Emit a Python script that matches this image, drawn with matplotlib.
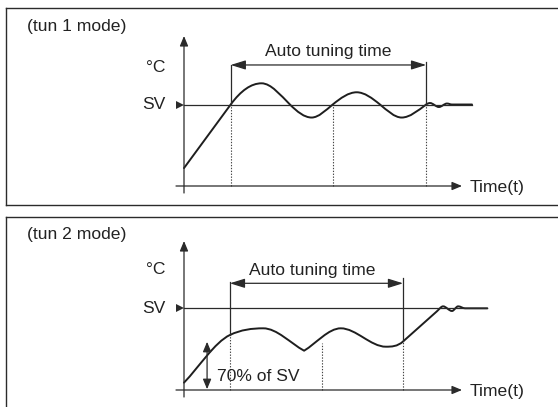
import numpy as np
import matplotlib.pyplot as plt
from matplotlib.path import Path
from matplotlib.patches import PathPatch

# ================================================
# Auto tuning modes (tun 1 / tun 2) - schematic
# time in arbitrary units, temperature in % of SV
# ================================================

plt.rcParams['font.family'] = ['Liberation Sans', 'DejaVu Sans']

# --- tun 1 mode: response curve key points ---
t1_time = [0, 16.8, 27.9, 38.1, 45.9, 53.5, 62.1, 70.5, 78.3, 87.1, 88.5, 91.7, 94.6, 96.4, 103.6]
t1_temp = [22, 100, 126, 100, 84, 100, 115, 100, 84, 100, 101.8, 96.9, 101.2, 100, 100]
t1_kind = ['n', 'p', 'f', 'c', 'f', 'c', 'f', 'c', 'f', 'c', 'f', 'f', 'f', 'f', 'p']
t1_tune = (16.8, 87.1)            # auto tuning start / end
t1_marks = [16.8, 53.5, 87.1]     # dotted guide times
t1_mark_top = [100, 100, 100]

# --- tun 2 mode: response curve key points ---
t2_time = [0, 16.5, 28.5, 43.2, 56.4, 72.6, 78.8, 91.0, 93.2, 96.4, 98.6, 101.1, 109.1]
t2_temp = [9, 67.3, 75.5, 48.1, 75.5, 53, 59.4, 96.4, 102.4, 96.7, 102.4, 100, 100]
t2_kind = ['n', 'm', 'f', 'k', 'f', 'f', 'n', 'p', 'f', 'f', 'f', 'f', 'p']
t2_tune = (16.5, 78.8)
t2_marks = [16.5, 49.5, 78.8]
t2_mark_top = [67.3, 57.5, 59.4]
pct_of_sv = 59   # height of the "70% of SV" arrow as drawn

SV = 100

# --- layout (pixels of a 558x407 figure) ---
W, H = 558, 407
x0, sx = 184, 2.78       # time origin / px per time unit


def slopes(t, v, kinds):
    # in / out slope at each key point: f=flat, n=towards next, p=from previous,
    # k=corner, s/m/c = smooth through neighbours (normal / softer / sine-like)
    n = len(t)
    s_in, s_out = np.zeros(n), np.zeros(n)
    gains = {'s': 1.0, 'm': 0.7, 'c': 1.45}
    for i, k in enumerate(kinds):
        prev_c = (v[i] - v[i-1]) / (t[i] - t[i-1]) if i > 0 else 0
        next_c = (v[i+1] - v[i]) / (t[i+1] - t[i]) if i < n - 1 else 0
        if k == 'f':
            a = b = 0
        elif k == 'n':
            a = b = next_c
        elif k == 'p':
            a = b = prev_c
        elif k == 'k':
            a, b = prev_c, next_c
        else:
            a = b = gains[k] * (v[i+1] - v[i-1]) / (t[i+1] - t[i-1])
        s_in[i], s_out[i] = a, b
    return s_in, s_out


def curve_path(t, v, kinds):
    s_in, s_out = slopes(t, v, kinds)
    verts = [(t[0], v[0])]
    codes = [Path.MOVETO]
    for i in range(len(t) - 1):
        dt = t[i+1] - t[i]
        lo, hi = min(v[i], v[i+1]), max(v[i], v[i+1])
        c1 = np.clip(v[i] + s_out[i]*dt/3, lo, hi)
        c2 = np.clip(v[i+1] - s_in[i+1]*dt/3, lo, hi)
        verts += [(t[i] + dt/3, c1), (t[i+1] - dt/3, c2), (t[i+1], v[i+1])]
        codes += [Path.CURVE4] * 3
    return Path(verts, codes)


fig = plt.figure(figsize=(W/100, H/100), dpi=100)

txt = dict(fontsize=12.6, color='#222222')
line_c = '#2a2a2a'


def panel(top_px, bot_px, y0, sy, ytip_px, title, t, v, kinds, tune, marks, mark_top,
          tune_y, tune_top, label_y, text_shift):
    ax = fig.add_axes([6/W, (H - bot_px)/H, 564/W, (bot_px - top_px)/H])
    ax.set_xlim((6 - x0)/sx, (570 - x0)/sx)
    ax.set_ylim((y0 - bot_px)/sy, (y0 - top_px)/sy)
    ax.set_xticks([])
    ax.set_yticks([])
    for sp in ax.spines.values():
        sp.set_color('#2b2b2b')
        sp.set_linewidth(1.0)

    arr = dict(arrowstyle='-|>,head_length=0.6,head_width=0.25', color=line_c,
               lw=0.9, shrinkA=0, shrinkB=0, mutation_scale=10)
    # axes with arrow heads
    ax.annotate('', xy=(0, (y0 - ytip_px)/sy), xytext=(0, -7/sy), arrowprops=arr)
    ax.annotate('', xy=(100, 0), xytext=(-8/sx, 0), arrowprops=arr)
    ax.text(102.8, -2, 'Time(t)', ha='left', va='center', **txt)

    # SV line and marker
    ax.plot([0, t[-1]], [SV, SV], color=line_c, lw=0.9)
    ax.plot([-1.5], [SV], marker='>', ms=5.5, color=line_c, mew=0)
    ax.text(-6.8, SV, 'SV', ha='right', va='center', **txt)
    ax.text(-6.5, label_y, '°C', ha='right', va='center', **txt)
    ax.text(-56.5, (y0 - top_px - 18)/sy, title, ha='left', va='center', **txt)

    # dotted guides
    for m, top in zip(marks, mark_top):
        ax.plot([m, m], [0, top], color='#444444', lw=0.8, ls=(0, (1.2, 1.4)))

    # auto tuning span
    ax.plot([tune[0], tune[0]], [mark_top[0], tune_top - 4], color=line_c, lw=0.9)
    ax.plot([tune[1], tune[1]], [mark_top[-1], tune_top], color=line_c, lw=0.9)
    ax.annotate('', xy=(tune[0], tune_y), xytext=(tune[1], tune_y),
                arrowprops=dict(arrowstyle='<|-|>,head_length=0.9,head_width=0.28',
                                color=line_c, lw=0.9, shrinkA=0, shrinkB=0,
                                mutation_scale=10))
    ax.text(sum(tune)/2 + text_shift, tune_y + 16, 'Auto tuning time',
            ha='center', va='center', **txt)

    # response curve
    ax.add_patch(PathPatch(curve_path(t, v, kinds), fill=False, ec='#1e1e1e',
                           lw=1.4, capstyle='round', joinstyle='round'))
    return ax


panel(8, 205, 186, 0.815, 36, '(tun 1 mode)', t1_time, t1_temp, t1_kind, t1_tune,
      t1_marks, t1_mark_top, tune_y=148.5, tune_top=152.5, label_y=144.8, text_shift=0)

ax2 = panel(217, 420, 390, 0.817, 241, '(tun 2 mode)', t2_time, t2_temp, t2_kind, t2_tune,
            t2_marks, t2_mark_top, tune_y=130.6, tune_top=136.7, label_y=146.9,
            text_shift=-1.5)

# 70% of SV indicator
ax2.annotate('', xy=(8.3, pct_of_sv), xytext=(8.3, 1),
             arrowprops=dict(arrowstyle='<|-|>,head_length=0.6,head_width=0.25',
                             color=line_c, lw=0.9, shrinkA=0, shrinkB=0,
                             mutation_scale=10))
ax2.text(12.0, 16, '70% of SV', ha='left', va='center', **txt)

plt.savefig('out.png', dpi=100)
plt.close()
